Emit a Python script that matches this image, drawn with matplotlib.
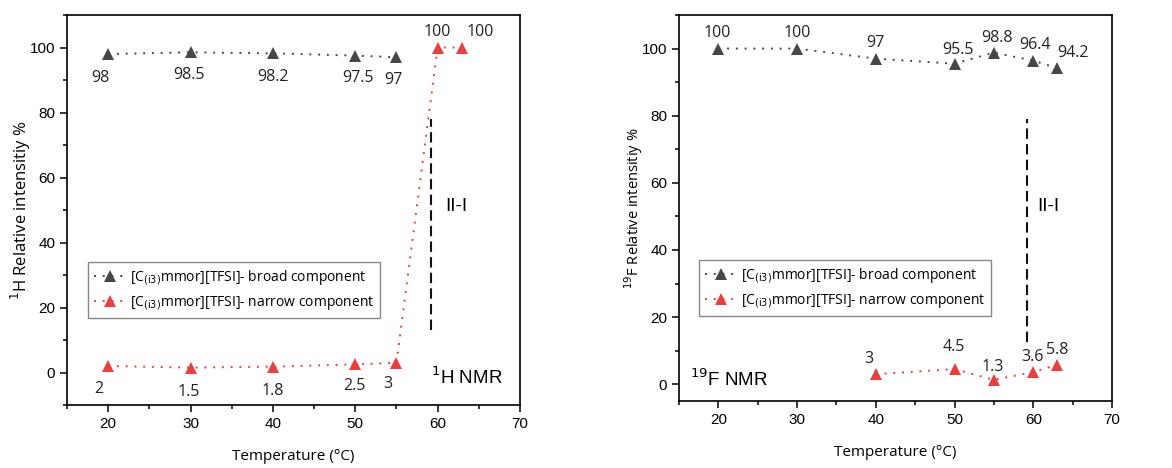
import matplotlib
matplotlib.use('Agg')
import matplotlib.pyplot as plt
from matplotlib.ticker import MultipleLocator

# 1H NMR data
h_broad_temp = [20, 30, 40, 50, 55]
h_broad_val = [98, 98.5, 98.2, 97.5, 97]
h_narrow_temp = [20, 30, 40, 50, 55, 60, 63]
h_narrow_val = [2, 1.5, 1.8, 2.5, 3, 100, 100]

# 19F NMR data
f_broad_temp = [20, 30, 40, 50, 55, 60, 63]
f_broad_val = [100, 100, 97, 95.5, 98.8, 96.4, 94.2]
f_narrow_temp = [40, 50, 55, 60, 63]
f_narrow_val = [3, 4.5, 1.3, 3.6, 5.8]

# label offsets in pixels (x right, y up)
h_broad_off = [(-8, -24), (-2, -23), (0, -24), (3, -22), (-3, -23)]
h_narrow_off = [(-9, -23), (-2, -24), (0, -24), (-1, -22), (-9, -21), (0, 15), (18, 15)]
f_broad_off = [(-1, 16), (0, 16), (0, 16), (3, 14), (3, 15), (2, 16), (16, 15)]
f_narrow_off = [(-7, 15), (-1, 22), (-1, 13), (-1, 15), (0, 15)]

GREY = '#474747'
RED = '#eb3f3f'
LABEL_FONT = 'Open Sans'
plt.rcParams['font.family'] = ['Liberation Sans', 'DejaVu Sans']

fig = plt.figure(figsize=(11.72, 4.68), dpi=100)
ax1 = fig.add_axes([67 / 1172, 1 - 405 / 468, (520 - 67) / 1172, (405 - 15) / 468])
ax2 = fig.add_axes([679 / 1172, 1 - 401 / 468, (1112 - 679) / 1172, (401 - 15) / 468])


def fmt(v):
    return f"{v:g}"


def draw_series(ax, xs, ys, color, offs, label):
    ax.plot(xs, ys, linestyle=(0, (1, 3.5)), color=color, linewidth=1.4,
            marker='^', markersize=9, markeredgewidth=0, label=label)
    for x, y, (dx, dy) in zip(xs, ys, offs):
        ax.annotate(fmt(y), (x, y), xytext=(dx, dy), textcoords='offset pixels',
                    ha='center', va='center', fontsize=11.5, family=LABEL_FONT,
                    color='#222222')


def style_axes(ax, ylabel, ylim, ysize, ylab_x):
    ax.set_xlim(15, 70)
    ax.set_ylim(*ylim)
    ax.xaxis.set_major_locator(MultipleLocator(10))
    ax.xaxis.set_minor_locator(MultipleLocator(5))
    ax.yaxis.set_major_locator(MultipleLocator(20))
    ax.yaxis.set_minor_locator(MultipleLocator(10))
    ax.tick_params(which='both', direction='out', top=False, right=False,
                   labelsize=11, width=1.1)
    ax.tick_params(which='major', length=5)
    ax.tick_params(which='minor', length=3)
    for sp in ax.spines.values():
        sp.set_linewidth(1.2)
    ax.set_xlabel('Temperature (°C)', fontsize=11, family=LABEL_FONT, labelpad=13)
    ax.set_ylabel(ylabel, fontsize=ysize, family=LABEL_FONT, va='center')
    ax.yaxis.set_label_coords(ylab_x, 0.5)


broad_lbl = r'[C$_{\rm (i3)}$mmor][TFSI]- broad component'
narrow_lbl = r'[C$_{\rm (i3)}$mmor][TFSI]- narrow component'
legend_kw = dict(prop={'family': LABEL_FONT, 'size': 10}, fancybox=False,
                 edgecolor='#888888', framealpha=1, handlelength=2.4,
                 handletextpad=0.2, borderpad=0.4, labelspacing=0.55,
                 borderaxespad=0, loc='upper left')
dash = (0, (5, 2.5))

# left panel: 1H
draw_series(ax1, h_broad_temp, h_broad_val, GREY, h_broad_off, broad_lbl)
draw_series(ax1, h_narrow_temp, h_narrow_val, RED, h_narrow_off, narrow_lbl)
ax1.vlines(59.2, 13, 78, colors='#111111', linestyles=dash, linewidth=1.5)
ax1.text(60.9, 51, 'II-I', fontsize=13.5, va='center', ha='left')
ax1.text(67.9, -1.5, r'$^{1}$H NMR', fontsize=13.5, va='center', ha='right')
style_axes(ax1, r'$^{1}$H Relative intensitiy %', (-10, 110), 12, -46 / 453)
ax1.legend(bbox_to_anchor=(21 / 453, 1 - 247 / 390), **legend_kw)

# right panel: 19F
draw_series(ax2, f_broad_temp, f_broad_val, GREY, f_broad_off, broad_lbl)
draw_series(ax2, f_narrow_temp, f_narrow_val, RED, f_narrow_off, narrow_lbl)
ax2.vlines(59.2, 12.5, 79, colors='#111111', linestyles=dash, linewidth=1.5)
ax2.text(60.5, 53, 'II-I', fontsize=13.5, va='center', ha='left')
ax2.text(16.4, 1.5, r'$^{19}$F NMR', fontsize=13.5, va='center', ha='left')
style_axes(ax2, r'$^{19}$F Relative intensitiy %', (-5, 110), 10.5, -45 / 433)
ax2.legend(bbox_to_anchor=(20 / 433, 1 - 245 / 386), **legend_kw)

fig.savefig('out.png', dpi=100)
